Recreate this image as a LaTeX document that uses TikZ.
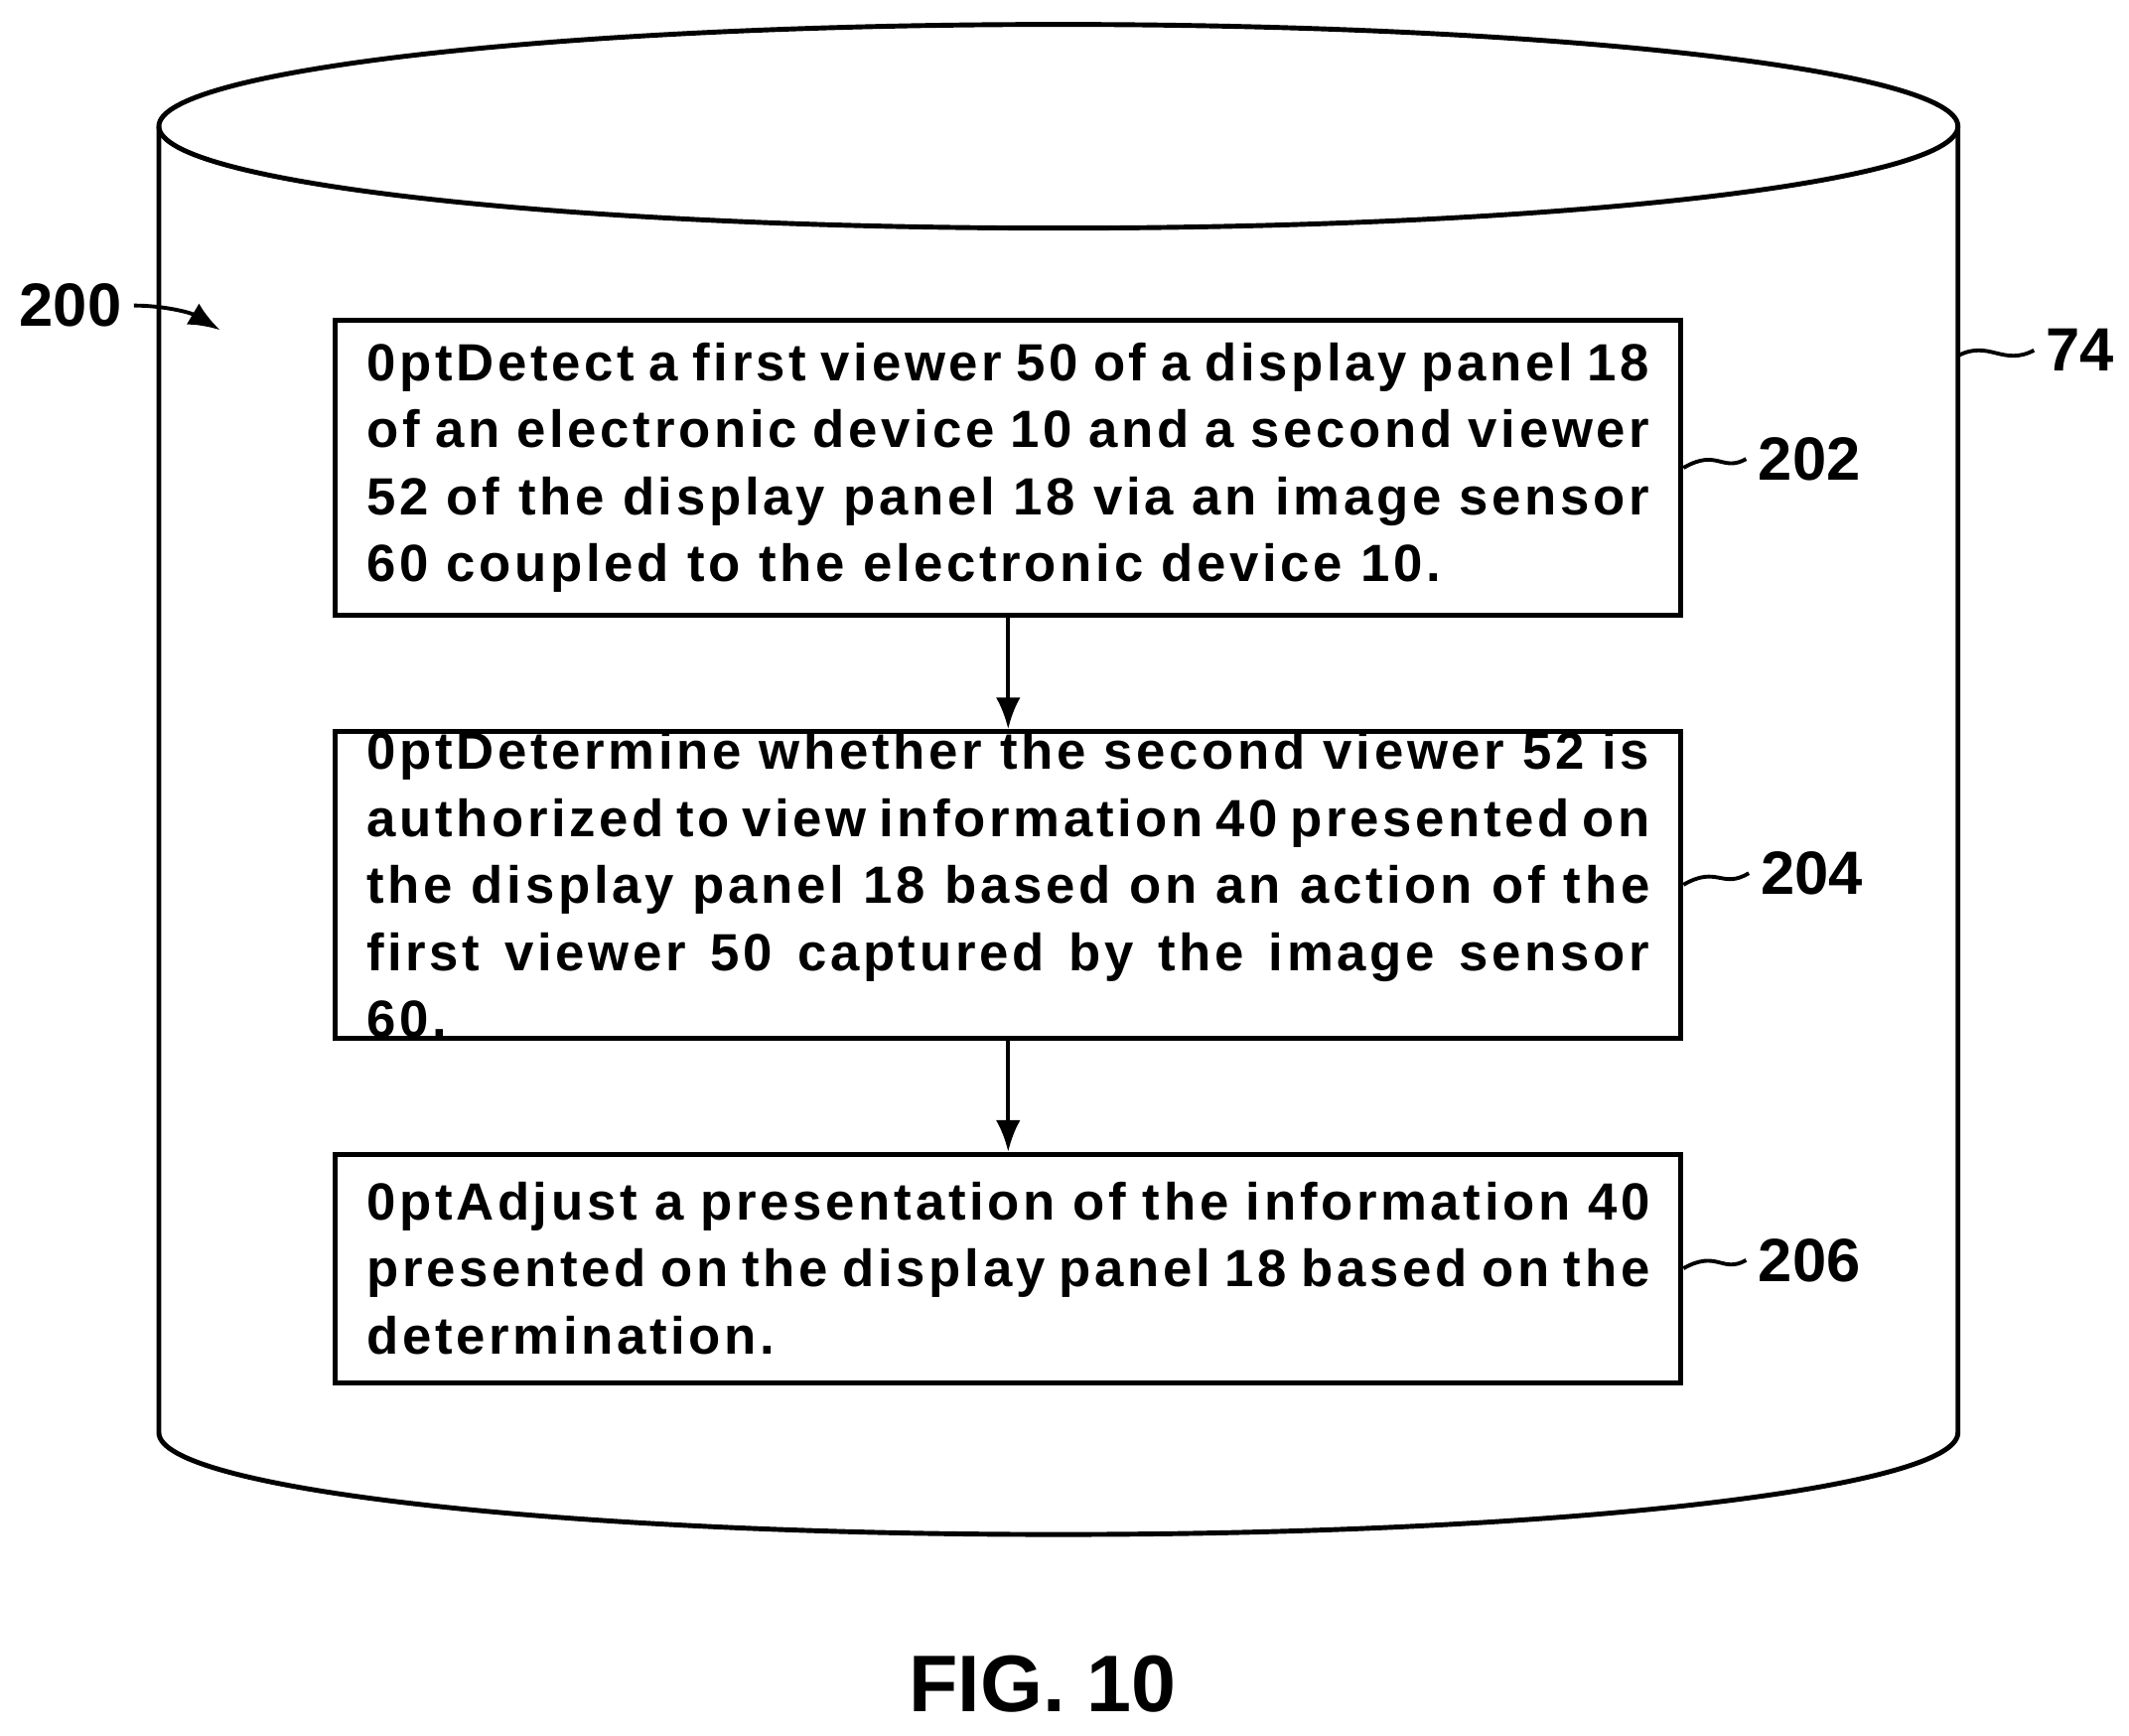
\documentclass[tikz,border=0pt]{standalone}
\usepackage{fontspec}
\setmainfont{Liberation Sans}
\newfontfamily\wideface[LetterSpace=7]{Liberation Sans}
\usetikzlibrary{arrows.meta}
\tikzset{proc/.style={draw,line width=1.4pt,text width=12.92cm,inner xsep=0.315cm,inner ysep=0pt,align=justify,font=\wideface\bfseries\fontsize{15}{19.2}\selectfont\hyphenpenalty=10000\exhyphenpenalty=10000},
	num/.style={font=\bfseries\fontsize{17.5}{22}\selectfont},
	lead/.style={line width=1.1pt}}
\begin{document}
\begin{tikzpicture}[x=0.01367cm,y=-0.01367cm]
			\useasboundingbox (0,0) rectangle (1568,1278);
			% drum
			\draw[line width=1.4pt] (779.5,93) ellipse [x radius=662.5,y radius=75];
			\draw[line width=1.4pt] (117,93) -- (117,1055) arc [start angle=180,end angle=0,x radius=662.5,y radius=75] -- (1442,93);
			% steps
			\node[proc,minimum height=2.97cm] (s202) at (742.5,344.5) {Detect a first viewer 50 of a display panel 18 of an electronic device 10 and a second viewer 52 of the display panel 18 via an image sensor 60 coupled to the electronic device 10.};
			\node[proc,minimum height=2.97cm] (s204) at (742.5,651.5) {Determine whether the second viewer 52 is authorized to view information 40 presented on the display panel 18 based on an action of the first viewer 50 captured by the image sensor 60.};
			\node[proc,minimum height=2.30cm] (s206) at (742.5,934) {Adjust a presentation of the information 40 presented on the display panel 18 based on the determination.};
			\draw[-{Latex[length=9pt,width=7pt]},line width=1.1pt] (s202) -- (s204);
			\draw[-{Latex[length=9pt,width=7pt]},line width=1.1pt] (s204) -- (s206);
			% labels
			\node[num,anchor=west] (n202) at (1286,338) {202};
			\node[num,anchor=west] (n204) at (1288,643) {204};
			\node[num,anchor=west] (n206) at (1286,928) {206};
			\node[num,anchor=west] (n74) at (1498,258) {74};
			\node[num] (n200) at (52,225) {200};
			\node[font=\bfseries\fontsize{23}{28}\selectfont] (fig) at (768,1240) {FIG. 10};
			\draw[lead] (s202.east) .. controls (1265,330) and (1268,348) .. (n202.west);
			\draw[lead] (s204.east) .. controls (1265,637) and (1268,655) .. (n204.west);
			\draw[lead] (s206.east) .. controls (1265,920) and (1268,938) .. (n206.west);
			\draw[lead] (1442,262) .. controls (1465,250) and (1475,270) .. (n74.west);
			\draw[lead,-{Latex[length=9pt,width=7pt]}] (n200.east) .. controls (120,225) and (140,230) .. (162,243);
\end{tikzpicture}
\end{document}
